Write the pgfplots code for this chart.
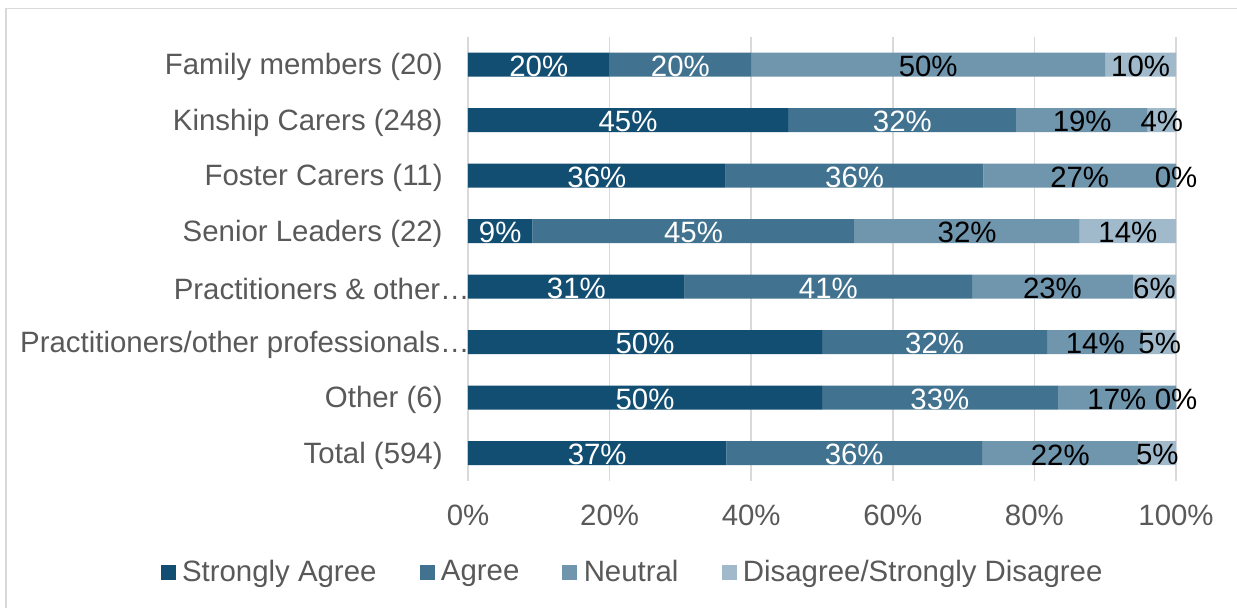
\documentclass[border=0pt]{standalone}
\usepackage{fontspec}
\setmainfont{Liberation Sans}
\usepackage{pgfplots}
\usepackage{pgfplotstable}
\pgfplotsset{compat=1.18}
\definecolor{cSA}{HTML}{114E72}
\definecolor{cA}{HTML}{41728F}
\definecolor{cN}{HTML}{7096AE}
\definecolor{cD}{HTML}{A0BACB}
\definecolor{txt}{HTML}{595959}
\definecolor{gridc}{HTML}{D9D9D9}
\newcommand{\cf}{\fontsize{14.7}{17}\selectfont}

\pgfplotstableread{
y SA A N D
0 36.5 36.1 22.1 5.3
1 50.0 33.3 16.7 0
2 50.0 31.8 13.6 4.6
3 30.6 40.6 22.7 6.1
4 9.1 45.5 31.8 13.6
5 36.4 36.4 27.2 0
6 45.2 32.3 18.5 4.0
7 20 20 50 10
}\datatable

\pgfplotstableread{
x y l
18.25 0 37
54.55 0 36
25 1 50
66.65 1 33
25 2 50
65.9 2 32
15.3 3 31
50.9 3 41
4.55 4 9
31.85 4 45
18.2 5 36
54.6 5 36
22.6 6 45
61.35 6 32
10 7 20
30 7 20
}\whitelabels

\pgfplotstableread{
x y l
83.65 0 22
97.35 0 5
91.65 1 17
100 1 0
88.6 2 14
97.7 2 5
82.55 3 23
96.95 3 6
70.5 4 32
93.2 4 14
86.4 5 27
100 5 0
86.75 6 19
98 6 4
65 7 50
95 7 10
}\blacklabels

\begin{document}
\begin{tikzpicture}
\useasboundingbox (0pt,0pt) rectangle (618.5pt,304pt);
\fill[white] (0pt,0pt) rectangle (618.5pt,304pt);
\draw[gridc, line width=0.75pt] (3pt,-5pt) -- (3pt,299.75pt) -- (630pt,299.75pt);
\begin{axis}[
  at={(234pt,63.5pt)}, anchor=south west,
  scale only axis, width=354pt, height=222pt,
  xbar stacked, bar width=12pt,
  xmin=0, xmax=100, ymin=-0.5, ymax=7.5,
  xtick={0,20,40,60,80,100},
  xticklabels={0\%,20\%,40\%,60\%,80\%,100\%},
  ytick={0,1,2,3,4,5,6,7},
  yticklabels={Total (594),Other (6),{\mbox{Practitioners/other professionals…}\kern-13.5pt},{\mbox{Practitioners \& other…}\kern-13.5pt},Senior Leaders (22),Foster Carers (11),Kinship Carers (248),Family members (20)},
  major tick length=0pt,
  xmajorgrids, grid style={gridc, line width=0.75pt},
  axis lines*=left,
  x axis line style={draw=none},
  y axis line style={gridc, line width=0.75pt},
  xticklabel style={font=\cf, text=txt, anchor=center, yshift=-17pt},
  yticklabel style={font=\cf, text=txt, anchor=east, inner sep=0pt, xshift=-12.5pt, yshift=-1.3pt},
  legend columns=4,
  legend style={at={(0.231,-0.205)}, anchor=center, draw=none, fill=none,
    font=\cf, text=txt, nodes={inner sep=0pt},
    /tikz/every odd column/.append style={column sep=3.2pt},
    /tikz/every even column/.append style={column sep=21.5pt}},
  legend image code/.code={\fill[#1] (0pt,-3.75pt) rectangle (7.5pt,3.75pt);},
]
\addplot[fill=cSA, draw=none] table[x=SA, y=y] {\datatable};
\addlegendentry{Strongly Agree}
\addplot[fill=cA, draw=none] table[x=A, y=y] {\datatable};
\addlegendentry{Agree}
\addplot[fill=cN, draw=none] table[x=N, y=y] {\datatable};
\addlegendentry{Neutral}
\addplot[fill=cD, draw=none] table[x=D, y=y] {\datatable};
\addlegendentry{Disagree/Strongly Disagree}
\end{axis}
\begin{axis}[
  at={(234pt,63.5pt)}, anchor=south west,
  scale only axis, width=354pt, height=222pt,
  xmin=0, xmax=100, ymin=-0.5, ymax=7.5,
  hide axis, clip=false,
]
\addplot[draw=none, mark=none, only marks, point meta=explicit symbolic,
  nodes near coords={\pgfplotspointmeta\%}, nodes near coords align={center},
  every node near coord/.append style={anchor=center, text=white, font=\cf, inner sep=0pt, yshift=-0.8pt}]
  table[x=x, y=y, meta=l] {\whitelabels};
\addplot[draw=none, mark=none, only marks, point meta=explicit symbolic,
  nodes near coords={\pgfplotspointmeta\%}, nodes near coords align={center},
  every node near coord/.append style={anchor=center, text=black, font=\cf, inner sep=0pt, yshift=-0.8pt}]
  table[x=x, y=y, meta=l] {\blacklabels};
\end{axis}
\end{tikzpicture}
\end{document}
